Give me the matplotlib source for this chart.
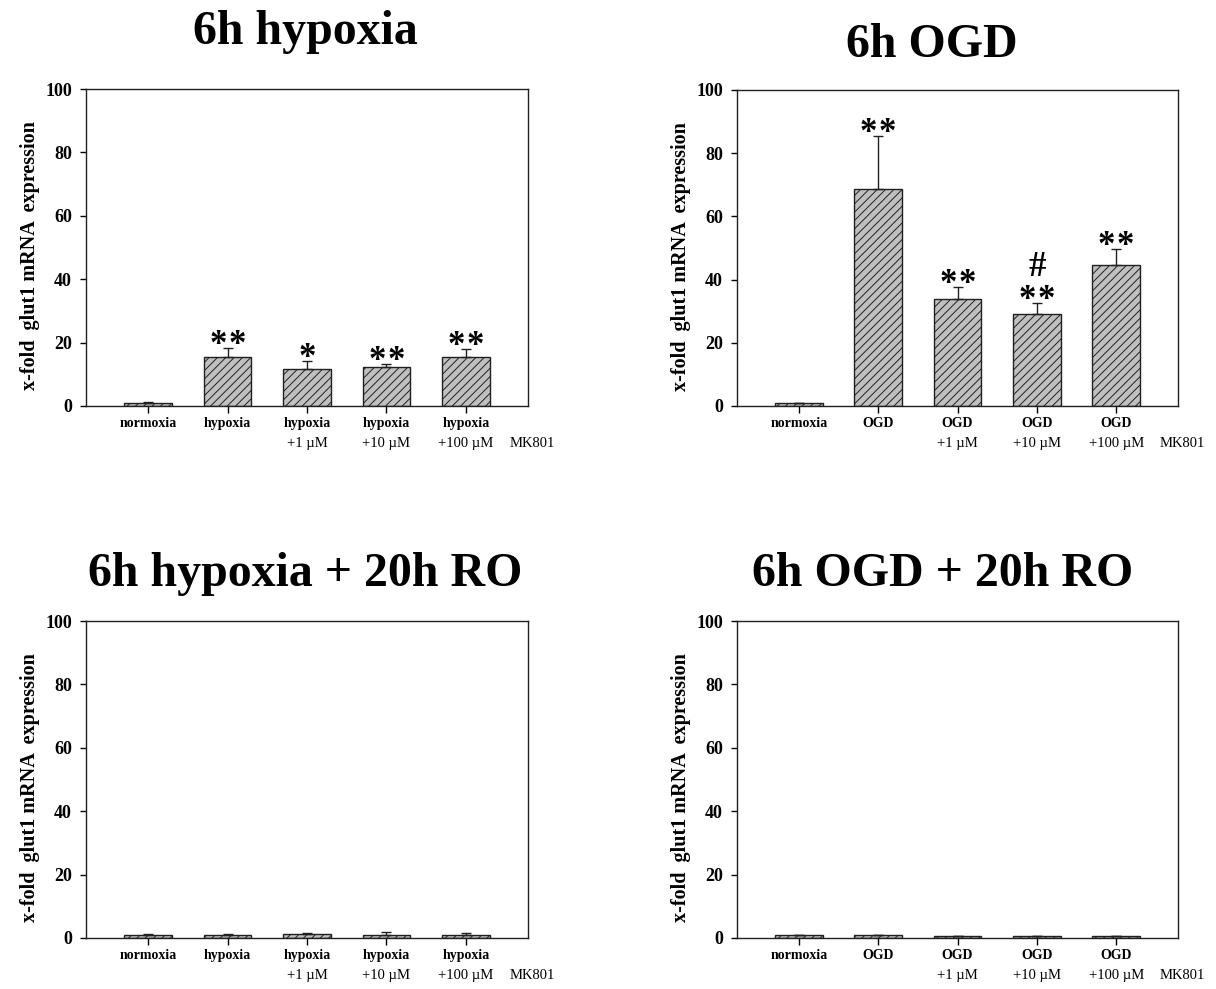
import matplotlib
matplotlib.use("Agg")
import matplotlib.pyplot as plt
import numpy as np

plt.rcParams['font.family'] = ['Liberation Serif', 'DejaVu Serif']
plt.rcParams['hatch.color'] = '#383838'
plt.rcParams['hatch.linewidth'] = 0.7

# data
hyp_labels = ['normoxia', 'hypoxia', 'hypoxia', 'hypoxia', 'hypoxia']
ogd_labels = ['normoxia', 'OGD', 'OGD', 'OGD', 'OGD']
dose_labels = ['', '', '+1 \u00b5M', '+10 \u00b5M', '+100 \u00b5M']

hyp6_vals = [1.0, 15.6, 11.6, 12.2, 15.6]
hyp6_err = [0.2, 2.8, 2.7, 1.2, 2.5]
hyp6_marks = [0, 2, 1, 2, 2]

ogd6_vals = [1.0, 68.7, 33.8, 29.0, 44.6]
ogd6_err = [0.1, 16.7, 4.0, 3.7, 5.2]
ogd6_marks = [0, 2, 2, 2, 2]
ogd6_hash = ['', '', '', '#', '']

hypro_vals = [1.0, 1.1, 1.4, 1.1, 0.9]
hypro_err = [0.2, 0.25, 0.25, 0.7, 0.6]

ogdro_vals = [1.0, 0.8, 0.7, 0.7, 0.7]
ogdro_err = [0.1, 0.3, 0.05, 0.05, 0.05]

titles = ['6h hypoxia', '6h OGD', '6h hypoxia + 20h RO', '6h OGD + 20h RO']

W, H = 1216, 989
fig = plt.figure(figsize=(W / 100, H / 100), dpi=100)


def make_axes(x0, x1, ytop, ybot):
    return fig.add_axes([x0 / W, (H - ybot) / H, (x1 - x0) / W, (ybot - ytop) / H])


def draw_panel(ax, vals, errs, names, marks=None, hashes=None):
    x = np.arange(len(vals))
    ax.bar(x, vals, 0.6, color='#c0c0c0', edgecolor='#202020', linewidth=1.0,
           hatch='////', zorder=2)
    ax.errorbar(x, vals, yerr=[np.zeros(len(errs)), errs], fmt='none',
                ecolor='#202020', elinewidth=1.0, capsize=3.5, capthick=1.0, zorder=3)
    ax.set_xlim(-0.78, 4.78)
    ax.set_ylim(0, 100)
    ax.set_yticks([0, 20, 40, 60, 80, 100])
    ax.set_xticks(x)
    ax.set_xticklabels([''] * len(x))
    for i, n in enumerate(names):
        ax.text(i, -3.5, n, ha='center', va='top', fontsize=10, fontweight='bold')
        if dose_labels[i]:
            ax.text(i, -9.8, dose_labels[i], ha='center', va='top', fontsize=10.5)
    ax.text(4.55, -9.8, 'MK801', ha='left', va='top', fontsize=10.5)
    ax.tick_params(axis='y', labelsize=13, length=4, width=1, direction='out', pad=6)
    ax.tick_params(axis='x', length=5, width=1, direction='out')
    for lab in ax.get_yticklabels():
        lab.set_fontweight('bold')
    for s in ax.spines.values():
        s.set_linewidth(1.0)
        s.set_color('#202020')
    ax.set_ylabel('x-fold  glut1 mRNA  expression', fontsize=14.5, fontweight='bold')
    ax.yaxis.set_label_coords(-0.104, 0.473)
    if marks:
        for i, m in enumerate(marks):
            top = vals[i] + errs[i]
            offs = [0] if m == 1 else ([-6.8, 6.8] if m == 2 else [])
            for dx in offs:
                ax.annotate('*', xy=(i, top), xytext=(dx, -4.5),
                            textcoords='offset points', ha='center', va='baseline',
                            fontsize=25, fontweight='bold')
    if hashes:
        for i, m in enumerate(hashes):
            if m:
                ax.annotate(m, xy=(i, vals[i] + errs[i]), xytext=(0, 19.5),
                            textcoords='offset points', ha='center', va='baseline',
                            fontsize=25, fontweight='bold')


ax1 = make_axes(86, 528, 89, 406)
draw_panel(ax1, hyp6_vals, hyp6_err, hyp_labels, marks=hyp6_marks)
ax2 = make_axes(737, 1178, 90, 406)
draw_panel(ax2, ogd6_vals, ogd6_err, ogd_labels, marks=ogd6_marks, hashes=ogd6_hash)
ax3 = make_axes(86, 528, 621, 938)
draw_panel(ax3, hypro_vals, hypro_err, hyp_labels)
ax4 = make_axes(737, 1178, 621, 938)
draw_panel(ax4, ogdro_vals, ogdro_err, ogd_labels)

# panel titles (pixel positions of the baselines)
title_pos = [(305, 44), (932, 57), (305, 586), (943, 586)]
for t, (px, py) in zip(titles, title_pos):
    fig.text(px / W, (H - py) / H, t, ha='center', va='baseline',
             fontsize=34.5, fontweight='bold')

fig.savefig('out.png', dpi=100)
